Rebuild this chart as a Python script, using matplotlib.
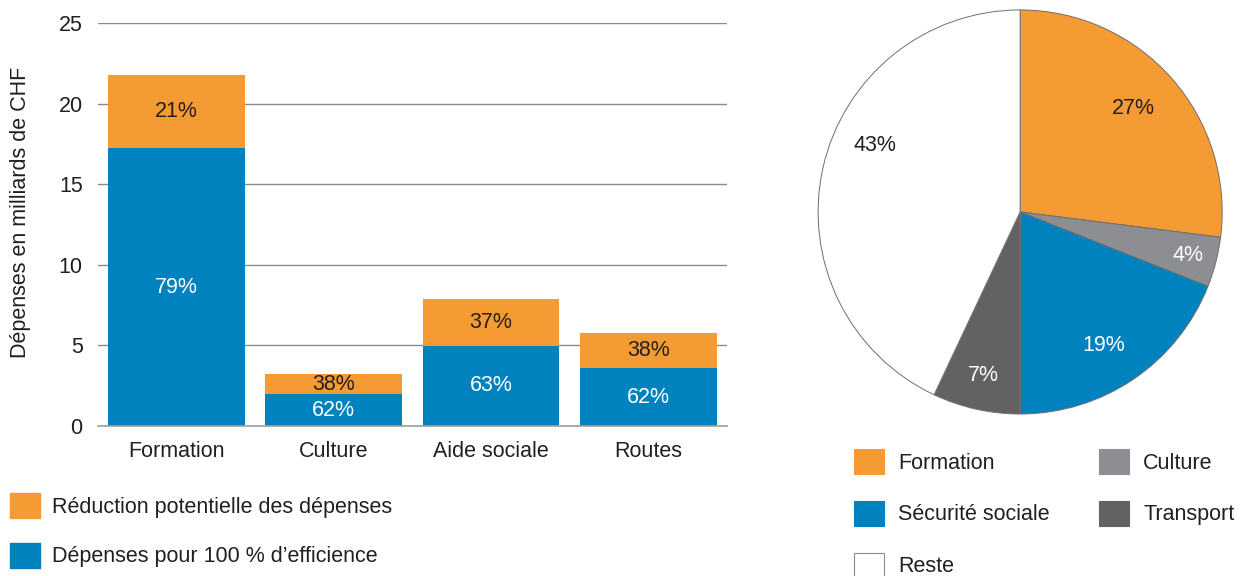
import matplotlib
matplotlib.use('Agg')
import matplotlib.pyplot as plt
from matplotlib.patches import Patch
import numpy as np

plt.rcParams['font.family'] = ['Liberation Sans', 'DejaVu Sans']

# Dépenses par domaine (milliards de CHF) et part à 100 % d'efficience
categories = ['Formation', 'Culture', 'Aide sociale', 'Routes']
totals = [21.8, 3.2, 7.9, 5.8]
efficient_pct = [79, 62, 63, 62]
reduction_pct = [21, 38, 37, 38]

# Répartition des dépenses totales
pie_labels = ['Formation', 'Culture', 'Sécurité sociale', 'Transport', 'Reste']
pie_shares = [27, 4, 19, 7, 43]

ORANGE = '#F59B34'
BLUE = '#0082BE'
GREY = '#8D8E91'
DARK = '#626264'
TEXT = '#231F20'
pie_colors = [ORANGE, GREY, BLUE, DARK, 'white']
pie_text = [TEXT, 'white', 'white', 'white', TEXT]
pie_dist = [0.76, 0.86, 0.78, 0.83, 0.79]
pie_shift = [1, 0, -2, 0, -12]  # degrees, nudges label off the wedge middle

FS = 15.5

efficient = np.array(totals) * np.array(efficient_pct) / 100
reduction = np.array(totals) - efficient

fig = plt.figure(figsize=(12.43, 5.76), dpi=100)

# --- stacked bars ---
ax = fig.add_axes([0.0788, 0.2604, 0.506, 0.6997])
x = np.arange(len(categories))
b1 = ax.bar(x, efficient, width=0.87, color=BLUE)
b2 = ax.bar(x, reduction, width=0.87, bottom=efficient, color=ORANGE)
ax.bar_label(b1, labels=[f'{p}%' for p in efficient_pct], label_type='center',
             color='white', fontsize=FS)
ax.bar_label(b2, labels=[f'{p}%' for p in reduction_pct], label_type='center',
             color=TEXT, fontsize=FS)

ax.set_xlim(-0.5, 3.5)
ax.set_ylim(0, 25)
ax.set_yticks([0, 5, 10, 15, 20, 25])
ax.set_xticks(x)
ax.set_xticklabels(categories)
ax.yaxis.grid(True, color='#8A8A8A', linewidth=1)
ax.set_axisbelow(True)
for s in ['top', 'right', 'left']:
    ax.spines[s].set_visible(False)
ax.spines['bottom'].set_color('#A0A0A0')
ax.spines['bottom'].set_linewidth(1.2)
ax.tick_params(axis='both', length=0, labelsize=FS, labelcolor=TEXT)
ax.tick_params(axis='x', pad=11)
ax.tick_params(axis='y', pad=11)
ax.set_ylabel('Dépenses en milliards de CHF', fontsize=FS, color=TEXT)
ax.yaxis.set_label_coords(-0.106, 0.53)

fig.legend(handles=[Patch(color=ORANGE, label='Réduction potentielle des dépenses'),
                    Patch(color=BLUE, label='Dépenses pour 100 % d’efficience')],
           loc='upper left', bbox_to_anchor=(0.008, 0.144), frameon=False,
           fontsize=FS, handlelength=1.4, handleheight=1.4, handletextpad=0.56,
           labelspacing=1.16, borderpad=0, borderaxespad=0, labelcolor=TEXT)

# --- pie ---
pax = fig.add_axes([0.657, 0.2795, 0.3274, 0.705])
wedges, _ = pax.pie(pie_shares, colors=pie_colors, startangle=90, counterclock=False,
                    wedgeprops=dict(edgecolor='#6E6E6E', linewidth=0.7))
for w, share, col, d, sh in zip(wedges, pie_shares, pie_text, pie_dist, pie_shift):
    ang = np.deg2rad((w.theta1 + w.theta2) / 2 + sh)
    pax.text(d * np.cos(ang), d * np.sin(ang), f'{share}%', ha='center', va='center',
             color=col, fontsize=FS)
pax.set_xlim(-1.005, 1.005)
pax.set_ylim(-1.005, 1.005)
pax.set_aspect('equal')

order = [0, 2, 4, 1, 3]
fig.legend(handles=[Patch(facecolor=pie_colors[i], edgecolor='#8A8A8A' if i == 4 else pie_colors[i],
                          linewidth=0.8, label=pie_labels[i]) for i in order],
           ncol=2, loc='upper left', bbox_to_anchor=(0.687, 0.2205), frameon=False,
           fontsize=FS, handlelength=1.4, handleheight=1.4, handletextpad=0.65,
           labelspacing=1.25, columnspacing=2.3, borderpad=0, borderaxespad=0,
           labelcolor=TEXT)

fig.savefig('out.png', dpi=100)
